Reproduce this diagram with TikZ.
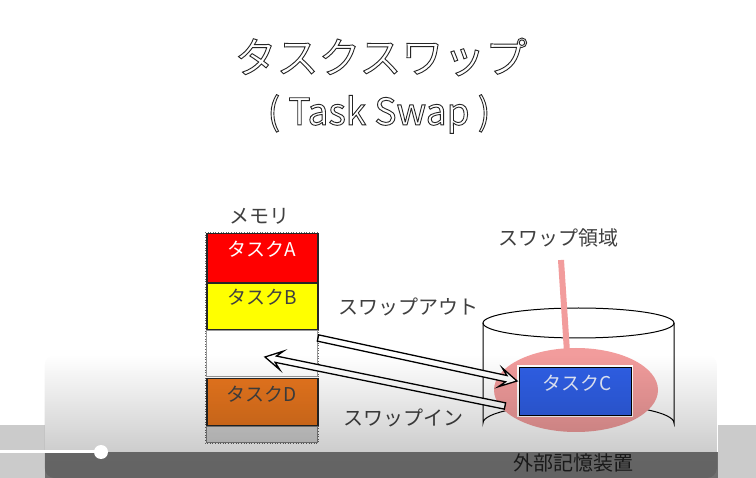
\documentclass[tikz,border=0pt]{standalone}
\usepackage{fontspec}
\newfontfamily\jp{Noto Sans CJK JP}
\usetikzlibrary{calc,fadings}
\definecolor{txt}{HTML}{404040}
\definecolor{taskA}{HTML}{FF0000}
\definecolor{taskB}{HTML}{FFFF00}
\definecolor{taskD}{HTML}{E8761E}
\definecolor{taskE}{HTML}{D4D4D4}
\definecolor{taskC}{HTML}{2F5FE6}
\definecolor{swappink}{HTML}{F29C9C}
\newcommand{\hollowarrow}[2]{%
  \coordinate (t1) at ($(#1)!3.2pt!90:(#2)$);
  \coordinate (t2) at ($(#1)!3.2pt!-90:(#2)$);
  \coordinate (hh) at ($(#2)!11pt!(#1)$);
  \coordinate (bb) at ($(#2)!17pt!(#1)$);
  \coordinate (h1) at ($(hh)!3.2pt!90:(#2)$);
  \coordinate (h2) at ($(hh)!3.2pt!-90:(#2)$);
  \coordinate (p1) at ($(bb)!9.5pt!90:(#2)$);
  \coordinate (p2) at ($(bb)!9.5pt!-90:(#2)$);
  \draw[fill=white, line width=1.3pt, line join=miter]
    (t1) -- (h1) -- (p1) -- (#2) -- (p2) -- (h2) -- (t2) -- cycle;}
\begin{document}
\begin{tikzpicture}[x=1pt,y=-1pt,
  lbl/.style={font=\jp\fontsize{20}{22}\selectfont, text=txt, inner sep=0},
  tasklbl/.style={font=\jp\fontsize{19}{21}\selectfont, inner sep=0},
  blk/.style={draw=black!85, line width=1.5pt, minimum width=111pt, inner sep=0, anchor=north west},
  ttl/.style={inner sep=0, text=black!85}]
\useasboundingbox (0,0) rectangle (756,478);
\fill[white] (0,0) rectangle (756,478);

% title (outlined text)
\node[ttl, font=\jp\fontsize{42}{46}\selectfont] (title) at (381,57)
  {\special{pdf:code 1 Tr 0.9 w}タスクスワップ\special{pdf:code 0 Tr}};
\node[ttl, font=\jp\fontsize{37}{40}\selectfont] (subtitle) at (379,114)
  {\special{pdf:code 1 Tr 0.9 w}( Task Swap )\special{pdf:code 0 Tr}};

% memory
\node[lbl] (memlbl) at (259,216) {メモリ};
\draw[black!60, line width=0.6pt, dotted] (205,232) rectangle (318,443);
\node[blk, fill=taskA, minimum height=49pt] (A) at (206,233) {};
\node[blk, fill=taskB, minimum height=46pt] (B) at (206,283) {};
\node[blk, fill=white, minimum height=46pt, draw=black!40, line width=0.8pt] (free) at (206,330) {};
\node[blk, fill=taskD, minimum height=47pt] (D) at (206,378) {};
\node[blk, fill=taskE, minimum height=16pt, draw=black!50, line width=0.8pt] (E) at (206,426) {};
\node[tasklbl, text=white] (Alab) at (262,249) {タスクA};
\node[tasklbl, text=black!75] (Blab) at (262,297) {タスクB};
\node[tasklbl, text=black!75] (Dlab) at (262,394) {タスクD};

% external storage cylinder
\draw[line width=1pt, fill=white] (483,323) -- (483,423)
  arc[start angle=180, end angle=360, x radius=95.5, y radius=19] -- (674,323);
\draw[line width=1pt] (578.5,323) ellipse [x radius=95.5, y radius=15];
\fill[swappink] (576,390) ellipse [x radius=82, y radius=42];
\draw[swappink, line width=6pt] (561,260) -- (567,352);
\draw[white, line width=2.5pt] (518,366) rectangle (632,416);
\node[draw=black, line width=1pt, fill=taskC, minimum width=112pt, minimum height=48pt,
  inner sep=0, anchor=north west] (C) at (519,367) {};
\node[tasklbl, text=white!88!taskC] (Clab) at (577,383) {タスクC};

% labels
\node[lbl] (swaparea) at (558,238) {スワップ領域};
\node[lbl] (swapout) at (408,307) {スワップアウト};
\node[lbl] (swapin) at (403,418) {スワップイン};

% arrows
\coordinate (so1) at (318,338);
\coordinate (so2) at (517,381);
\coordinate (si1) at (505,406);
\coordinate (si2) at (265,357);
\hollowarrow{so1}{so2}
\hollowarrow{si1}{si2}

% video overlay
\fill[black, path fading=north, fill opacity=0.25, rounded corners=10pt]
  (45,355) rectangle (718,478);
\fill[black!40, opacity=0.5] (0,425) rectangle (45,478);
\fill[black!40, opacity=0.5] (718,425) rectangle (756,478);
\fill[black!70, opacity=0.8] (45,452) rectangle (718,478);
\draw[white, line width=3pt] (0,452) -- (101,452);
\fill[white] (101,452) circle [radius=7];
\node[lbl, text=black!90] (storage) at (573,463) {外部記憶装置};
\end{tikzpicture}
\end{document}
